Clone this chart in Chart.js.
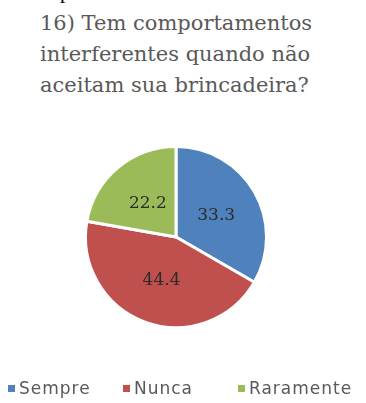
<!DOCTYPE html>
<html lang="pt">
<head>
<meta charset="utf-8">
<title>Comportamentos interferentes</title>
<script src="https://cdn.jsdelivr.net/npm/chart.js@4.4.1/dist/chart.umd.min.js"></script>
<style>
  html, body { margin: 0; padding: 0; background: #ffffff; overflow: hidden; }
  #wrap { position: relative; width: 366px; height: 403px; }
  #chart { position: absolute; left: 0; top: 0; }
  #cut { position: absolute; left: 60px; top: -19px; font: 21px "Liberation Serif", serif; color: #000; line-height: 21px; }
  #title {
    position: absolute; left: 40px; top: 8px;
    font: 21px "DejaVu Serif", serif; line-height: 31px; color: #595959;
    white-space: nowrap;
  }
  #legend { position: absolute; left: 0; top: 378px; width: 366px; height: 20px; }
  .item { position: absolute; top: 0; display: flex; align-items: center; height: 20px;
          font: 17px "DejaVu Sans", sans-serif; letter-spacing: 1px; color: #595959; white-space: nowrap; }
  .swatch { width: 7px; height: 7px; margin-right: 4px; }
</style>
</head>
<body>
<div id="wrap">
  <span id="cut">p</span>
  <div id="title"></div>
  <canvas id="chart" width="366" height="403"></canvas>
  <div id="legend"></div>
</div>
<script>
// Question and answers
const titleLines = ['16) Tem comportamentos', 'interferentes quando não', 'aceitam sua brincadeira?'];
const categories = ['Sempre', 'Nunca', 'Raramente'];
const percentages = [33.3, 44.4, 22.2];
const sliceColors = ['#4F81BD', '#C0504D', '#9BBB59'];

// Title
document.getElementById('title').innerHTML = titleLines.join('<br>');

// Legend row (left edge of each entry)
const legendLeft = [8, 123, 238];
const legendEl = document.getElementById('legend');
categories.forEach((name, i) => {
  const item = document.createElement('div');
  item.className = 'item';
  item.style.left = legendLeft[i] + 'px';
  const sw = document.createElement('span');
  sw.className = 'swatch';
  sw.style.background = sliceColors[i];
  const tx = document.createElement('span');
  tx.textContent = name;
  item.appendChild(sw);
  item.appendChild(tx);
  legendEl.appendChild(item);
});

// Value labels drawn at the middle of each slice
const sliceLabels = {
  id: 'sliceLabels',
  afterDatasetsDraw(chart) {
    const ctx = chart.ctx;
    const meta = chart.getDatasetMeta(0);
    ctx.save();
    ctx.font = '17px "DejaVu Serif", serif';
    ctx.fillStyle = '#2b2b2b';
    ctx.textAlign = 'center';
    ctx.textBaseline = 'middle';
    meta.data.forEach((arc, i) => {
      const p = arc.tooltipPosition();
      ctx.fillText(chart.data.datasets[0].data[i].toFixed(1), p.x + 1, p.y + 1);
    });
    ctx.restore();
  }
};

new Chart(document.getElementById('chart'), {
  type: 'pie',
  data: {
    labels: categories,
    datasets: [{
      data: percentages,
      backgroundColor: sliceColors,
      borderColor: '#ffffff',
      borderWidth: 3
    }]
  },
  options: {
    responsive: false,
    animation: false,
    layout: { padding: { left: 84, right: 98, top: 145, bottom: 74 } },
    plugins: {
      legend: { display: false },
      title: { display: false },
      tooltip: { enabled: false }
    }
  },
  plugins: [sliceLabels]
});
</script>
</body>
</html>
